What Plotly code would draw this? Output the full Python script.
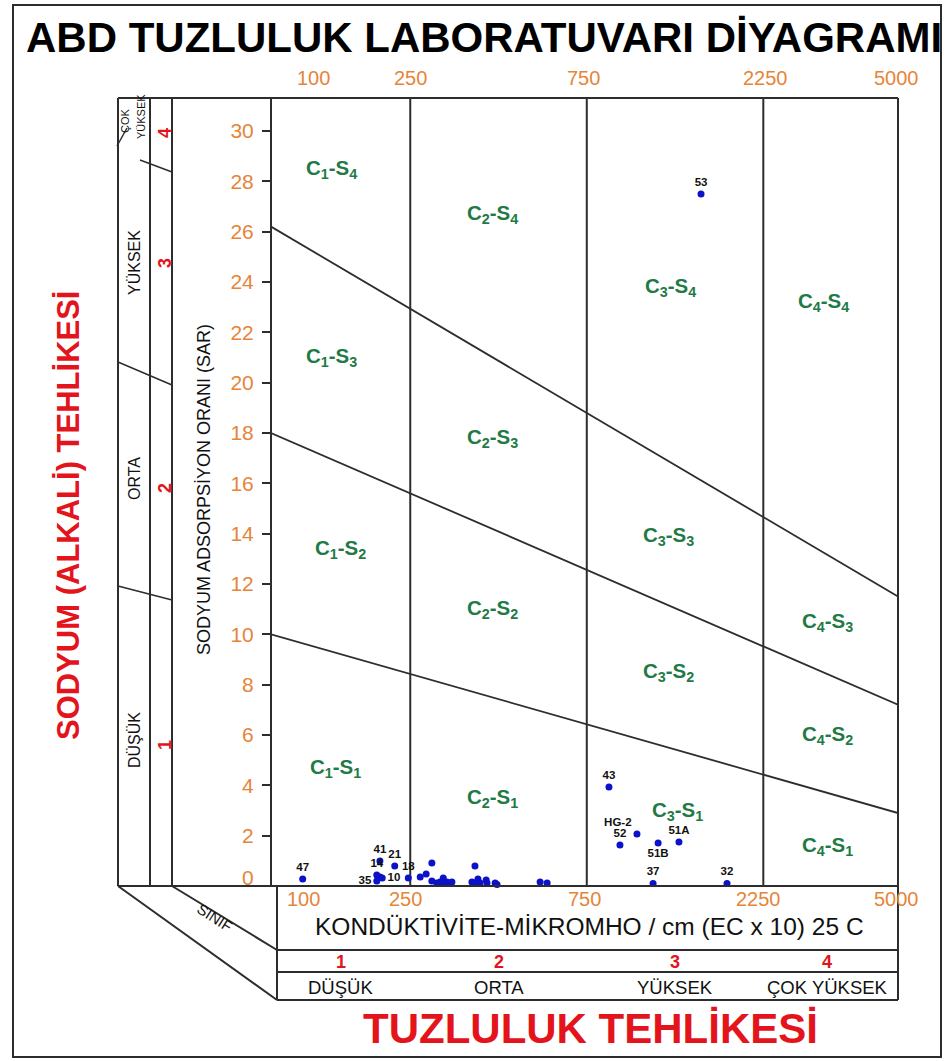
import math
import plotly.graph_objects as go

# ---------------- data ----------------
# salinity class boundaries (EC, micromho/cm)
CLASS_EC = [100, 250, 750, 2250, 5000]
CLASS_NUM = ["1", "2", "3", "4"]
CLASS_NAME = ["DÜŞÜK", "ORTA", "YÜKSEK", "ÇOK YÜKSEK"]

# sodium hazard boundary lines: SAR at the left and right edges of the chart
S_LINE_LEFT = [10.0, 18.0, 26.2]
S_LINE_RIGHT = [2.9, 7.2, 11.5]

SAR_TICKS = list(range(2, 31, 2))

# zone labels: (text, EC, SAR)
ZONE_TEXT = ["C<sub>1</sub>-S<sub>4</sub>", "C<sub>2</sub>-S<sub>4</sub>", "C<sub>3</sub>-S<sub>4</sub>", "C<sub>4</sub>-S<sub>4</sub>",
             "C<sub>1</sub>-S<sub>3</sub>", "C<sub>2</sub>-S<sub>3</sub>", "C<sub>3</sub>-S<sub>3</sub>", "C<sub>4</sub>-S<sub>3</sub>",
             "C<sub>1</sub>-S<sub>2</sub>", "C<sub>2</sub>-S<sub>2</sub>", "C<sub>3</sub>-S<sub>2</sub>", "C<sub>4</sub>-S<sub>2</sub>",
             "C<sub>1</sub>-S<sub>1</sub>", "C<sub>2</sub>-S<sub>1</sub>", "C<sub>3</sub>-S<sub>1</sub>", "C<sub>4</sub>-S<sub>1</sub>"]
ZONE_EC = [153, 416, 1259, 3263,
           153, 416, 1244, 3365,
           162, 416, 1244, 3365,
           157, 416, 1315, 3365]
ZONE_SAR = [28.5, 26.7, 23.8, 23.2,
            21.0, 17.8, 13.9, 10.5,
            13.4, 11.0, 8.5, 6.0,
            4.7, 3.5, 3.0, 1.6]

# labelled samples
SAMPLE_ID = ["47", "41", "21", "14", "35", "10", "18",
             "43", "HG-2", "52", "51B", "51A", "37", "32", "53"]
SAMPLE_EC = [128, 207, 227, 203, 203, 210, 247,
             861, 1025, 922, 1169, 1331, 1133, 1795, 1527]
SAMPLE_SAR = [0.28, 0.99, 0.79, 0.44, 0.20, 0.32, 0.32,
              3.93, 2.07, 1.63, 1.71, 1.75, 0.10, 0.10, 27.5]
SAMPLE_POS = ["top center", "top center", "top center", "top center", "middle left", "middle right", "top center",
              "top center", "top left", "top center", "bottom center", "top center", "top center", "top center", "top center"]

# unlabelled samples
OTHER_EC = [207, 266, 276, 286, 286, 295, 301, 307, 310, 314, 320, 324,
            374, 367, 374, 381, 386, 401, 403, 424, 429, 561, 586]
OTHER_SAR = [0.36, 0.36, 0.48, 0.91, 0.20, 0.12, 0.16, 0.32, 0.12, 0.16, 0.12, 0.16,
             0.79, 0.16, 0.12, 0.28, 0.12, 0.24, 0.12, 0.12, 0.06, 0.16, 0.12]

# ---------------- styling ----------------
W, H = 946, 1061
FONT = "Liberation Sans, Arial, sans-serif"
ORANGE = "#E5853A"
GREEN = "#1F7A45"
RED = "#E3141B"
BLUE = "#0B12C8"
LINE = "#2d2d2d"

# chart frame in pixels
FX0, FX1, FY0, FY1 = 271, 898, 98, 886
X_RANGE = [2.0216, 3.7162]          # log10(EC)
Y_RANGE = [0, 31.31]                 # SAR
EC_LEFT, EC_RIGHT = 10 ** X_RANGE[0], 10 ** X_RANGE[1]


def px(x):
    return x / W


def py(y):
    return 1 - y / H


fig = go.Figure()

# class dividers
for ec in CLASS_EC[1:-1]:
    fig.add_trace(go.Scatter(x=[ec, ec], y=Y_RANGE, mode="lines",
                             line=dict(color=LINE, width=2), hoverinfo="skip"))

# sodium hazard lines
for s0, s1 in zip(S_LINE_LEFT, S_LINE_RIGHT):
    fig.add_trace(go.Scatter(x=[EC_LEFT, EC_RIGHT], y=[s0, s1], mode="lines",
                             line=dict(color=LINE, width=1.8), hoverinfo="skip"))

# samples
fig.add_trace(go.Scatter(x=OTHER_EC, y=OTHER_SAR, mode="markers",
                         marker=dict(color=BLUE, size=7), cliponaxis=False))
fig.add_trace(go.Scatter(x=SAMPLE_EC, y=SAMPLE_SAR, mode="markers+text",
                         text=["<b>%s</b>" % s for s in SAMPLE_ID], textposition=SAMPLE_POS,
                         textfont=dict(family=FONT, size=11.5, color="#111"),
                         marker=dict(color=BLUE, size=7), cliponaxis=False))

ann = []


def note(text, x, y, size, color="#111", xref="paper", yref="paper", **kw):
    d = dict(x=x, y=y, xref=xref, yref=yref, text=text, showarrow=False,
             xanchor="center", yanchor="middle", font=dict(family=FONT, size=size, color=color))
    d.update(kw)
    ann.append(d)


# zone labels
for t, ec, s in zip(ZONE_TEXT, ZONE_EC, ZONE_SAR):
    note("<b>%s</b>" % t, math.log10(ec), s, 20.5, GREEN, xref="x", yref="y")

# EC labels above and below the chart (the first one sits inside the frame)
TOP_X = [313, None, None, None, None]
BOT_X = [303, None, None, None, None]
TOP_SHIFT = [0, 0, -3, 2, 5]
BOT_SHIFT = [0, -5, -2, -5, 5]
for ec, tx, bx, ts, bs in zip(CLASS_EC, TOP_X, BOT_X, TOP_SHIFT, BOT_SHIFT):
    if tx is None:
        note(str(ec), math.log10(ec), py(78), 20, ORANGE, xref="x", xshift=ts)
        note(str(ec), math.log10(ec), py(899), 20, ORANGE, xref="x", xshift=bs)
    else:
        note(str(ec), px(tx), py(78), 20, ORANGE)
        note(str(ec), px(bx), py(899), 20, ORANGE)

# zero on the SAR scale
note("0", px(256), 0, 21, ORANGE, yref="y", yshift=9, xanchor="right")

# class table below the chart
for i in range(4):
    lo = max(math.log10(CLASS_EC[i]), X_RANGE[0])
    hi = min(math.log10(CLASS_EC[i + 1]), X_RANGE[1])
    mid = (lo + hi) / 2
    note("<b>%s</b>" % CLASS_NUM[i], mid, py(962), 18, RED, xref="x")
    note(CLASS_NAME[i], mid, py(987), 18.5, "#111", xref="x")

note("KONDÜKTİVİTE-MİKROMHO / cm (EC x 10) 25 C", px(589), py(926), 24.5)

# titles
note("<b>ABD TUZLULUK LABORATUVARI DİYAGRAMI</b>", px(24), py(37), 42, "#000", xanchor="left")
note("<b>TUZLULUK TEHLİKESİ</b>", px(590), py(1028), 42, RED)
note("<b>SODYUM (ALKALİ) TEHLİKESİ</b>", px(68), py(515), 31, RED, textangle=-90)
note("SODYUM ADSORPSİYON ORANI (SAR)", px(204), py(490), 18, textangle=-90)
note("SINIF", px(215), py(917), 15, textangle=33)

# sodium class strip on the left
SIDE_NAME = ["YÜKSEK", "ORTA", "DÜŞÜK"]
SIDE_NAME_Y = [263, 479, 740]
for t, y in zip(SIDE_NAME, SIDE_NAME_Y):
    note(t, px(134), py(y), 16, textangle=-90)
note("ÇOK", px(125), py(121), 11, textangle=-90)
note("YÜKSEK", px(141), py(117), 11, textangle=-90)
SIDE_NUM = ["4", "3", "2", "1"]
SIDE_NUM_Y = [133, 263, 488, 745]
for t, y in zip(SIDE_NUM, SIDE_NUM_Y):
    note("<b>%s</b>" % t, px(165), py(y), 18, RED, textangle=-90)

# frame and table lines
shapes = []


def seg(x0, y0, x1, y1, w=2):
    shapes.append(dict(type="line", xref="paper", yref="paper",
                       x0=px(x0), y0=py(y0), x1=px(x1), y1=py(y1),
                       line=dict(color=LINE, width=w)))


seg(118, FY0, FX1, FY0)          # top edge
seg(118, FY1, FX1, FY1)          # base
seg(FX1, FY0, FX1, 1000)         # right edge
seg(FX0, FY0, FX0, FY1)          # SAR axis
for x in (118, 150, 172):
    seg(x, FY0, x, FY1)
seg(117, 146, 127, 128, 1.5)
seg(140, 160, 172, 172, 1.5)
seg(118, 362, 172, 385, 1.5)
seg(118, 586, 172, 600, 1.5)
seg(277, FY1, 277, 1000)
seg(277, 950, FX1, 950)
seg(277, 972, FX1, 972)
seg(277, 1000, FX1, 1000)
seg(118, FY1, 277, 1000)
seg(172, FY1, 277, 950)
for ec in CLASS_EC[1:-1]:
    shapes.append(dict(type="line", xref="x", yref="paper",
                       x0=math.log10(ec), x1=math.log10(ec), y0=py(950), y1=py(1000),
                       line=dict(color=LINE, width=2)))
# outer border
shapes.append(dict(type="rect", xref="paper", yref="paper", x0=px(13), y0=py(1057), x1=px(941), y1=py(5),
                   line=dict(color=LINE, width=2)))

fig.update_layout(
    width=W, height=H, margin=dict(l=0, r=0, t=0, b=0),
    paper_bgcolor="white", plot_bgcolor="white", showlegend=False,
    xaxis=dict(type="log", range=X_RANGE, domain=[px(FX0), px(FX1)],
               showgrid=False, zeroline=False, showticklabels=False, ticks="", showline=False),
    yaxis=dict(range=Y_RANGE, domain=[py(FY1), py(FY0)], tickvals=SAR_TICKS,
               ticks="outside", ticklen=8, tickwidth=2, tickcolor=LINE,
               tickfont=dict(family=FONT, size=21, color=ORANGE), ticklabelstandoff=4,
               showgrid=False, zeroline=False, showline=False),
    annotations=ann, shapes=shapes,
)

fig.write_html("out.html")
